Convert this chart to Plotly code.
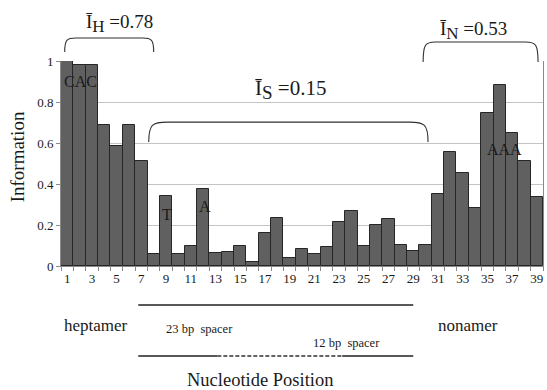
import plotly.graph_objects as go

positions = list(range(1, 40))
information = [1.00, 0.98, 0.98, 0.69, 0.585, 0.69, 0.51, 0.058, 0.34, 0.058,
               0.10, 0.378, 0.065, 0.07, 0.10, 0.021, 0.159, 0.236, 0.039, 0.081,
               0.058, 0.091, 0.215, 0.268, 0.098, 0.202, 0.231, 0.102, 0.072, 0.102,
               0.351, 0.556, 0.454, 0.283, 0.748, 0.881, 0.647, 0.514, 0.338]
x_tick_labels = [str(i) for i in range(1, 40, 2)]
y_tick_values = [0, 0.2, 0.4, 0.6, 0.8, 1.0]

FONT = "Liberation Serif"

fig = go.Figure()
fig.add_trace(go.Bar(
    x=positions, y=information,
    marker=dict(color="#606060", line=dict(color="#262626", width=1)),
    width=1.0,
))

def brace(x0, x1, ytop, yend, rx, yref):
    ry = (ytop - yend)
    path = (f"M {x0},{yend} C {x0},{ytop - ry*0.1} {x0 + rx*0.2},{ytop} {x0 + rx},{ytop} "
            f"L {x1 - rx},{ytop} C {x1 - rx*0.2},{ytop} {x1},{ytop - ry*0.1} {x1},{yend}")
    return dict(type="path", path=path, xref="x", yref=yref,
                line=dict(color="#303030", width=1.1), layer="above")

shapes = [
    brace(0.8, 8.0, 1.112, 1.044, 0.9, "paper"),
    brace(29.8, 39.1, 1.093, 0.995, 1.0, "paper"),
    brace(7.6, 30.2, 0.702, 0.605, 1.5, "y"),
    dict(type="line", xref="x", yref="paper", x0=6.75, x1=29.0, y0=-0.19, y1=-0.19,
         line=dict(color="#202020", width=1.5)),
    dict(type="line", xref="x", yref="paper", x0=6.75, x1=13.15, y0=-0.439, y1=-0.439,
         line=dict(color="#202020", width=1.5)),
    dict(type="line", xref="x", yref="paper", x0=13.15, x1=23.25, y0=-0.439, y1=-0.439,
         line=dict(color="#303030", width=1.6, dash="4px,2px")),
    dict(type="line", xref="x", yref="paper", x0=23.25, x1=29.0, y0=-0.439, y1=-0.439,
         line=dict(color="#202020", width=1.5)),
]

def ann(text, x, y, size, yref="paper", xref="x", **kw):
    d = dict(text=text, x=x, y=y, xref=xref, yref=yref, showarrow=False,
             xanchor="center", yanchor="middle",
             font=dict(family=FONT, size=size, color="#1a1a1a"))
    d.update(kw)
    return d

def ibar(sub, val, size):
    return f"Ī<sub><span style='font-size:{size}px'>{sub}</span></sub> =<span>{val}</span>"

annotations = [
    ann(ibar("H", "0.78", 17), 5.25, 1.185, 19),
    ann(ibar("N", "0.53", 17), 33.9, 1.151, 19),
    ann(ibar("S", "0.15", 19), 19.1, 0.86, 21, yref="y"),
    ann("CAC", 2.06, 0.9, 16, yref="y"),
    ann("T", 9.07, 0.25, 16, yref="y"),
    ann("A", 12.17, 0.29, 16, yref="y"),
    ann("AAA", 36.4, 0.566, 16, yref="y"),
    ann("heptamer", 3.3, -0.288, 17),
    ann("23 bp  spacer", 11.7, -0.307, 12.5),
    ann("12 bp  spacer", 23.6, -0.376, 12.5),
    ann("nonamer", 33.4, -0.288, 17),
    ann("Nucleotide Position", 16.6, -0.556, 18.5),
    ann("Information", 0, 0.53, 19, xref="paper", xshift=-44, textangle=-90),
]

fig.update_layout(
    width=547, height=390,
    margin=dict(l=61, r=4, t=61, b=124),
    paper_bgcolor="white", plot_bgcolor="white",
    showlegend=False, bargap=0,
    font=dict(family=FONT, size=13, color="#1a1a1a"),
    shapes=shapes, annotations=annotations,
    xaxis=dict(range=[0.5, 39.5], tickvals=list(range(1, 40, 2)), ticktext=x_tick_labels,
               ticks="", showgrid=False, showline=True, linecolor="#8a8a8a", linewidth=1,
               minor=dict(ticks="outside", tick0=0.5, dtick=1, ticklen=4, tickcolor="#8a8a8a",
                          showgrid=False),
               tickfont=dict(family=FONT, size=13), zeroline=False, fixedrange=True),
    yaxis=dict(range=[0, 1], tickvals=y_tick_values, ticktext=["0", "0.2", "0.4", "0.6", "0.8", "1"],
               ticks="outside", ticklen=4, tickcolor="#8a8a8a",
               showgrid=True, gridcolor="#c4c4c4", gridwidth=1,
               showline=True, linecolor="#8a8a8a", linewidth=1, mirror=True,
               tickfont=dict(family=FONT, size=13), zeroline=False, fixedrange=True),
)

fig.write_html("out.html", config={"displayModeBar": False},
               post_script="document.body.style.margin='0';document.body.style.overflow='hidden';")
